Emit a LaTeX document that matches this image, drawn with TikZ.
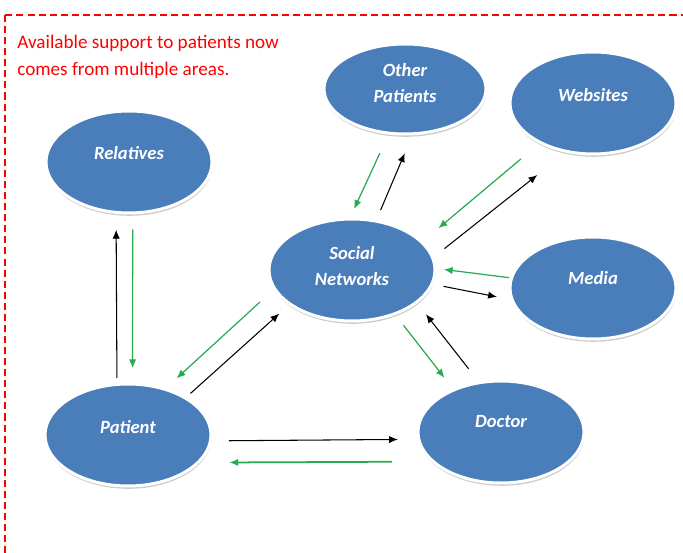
\documentclass[tikz,border=0pt]{standalone}
\usepackage{fontspec}
\setmainfont{Carlito}
\usetikzlibrary{arrows.meta,shapes.geometric,shadows}
\definecolor{bubbleblue}{RGB}{74,126,187}
\definecolor{arrowgreen}{RGB}{40,170,80}
\tikzset{>={Latex[length=5pt,width=4.2pt]}}
\tikzset{
  bubble/.style={ellipse, fill=bubbleblue, draw=white, line width=1.7pt,
    minimum width=3.32cm, minimum height=2.04cm, inner sep=0pt,
    drop shadow={shadow xshift=0.3pt, shadow yshift=-1.6pt, fill=black!45, opacity=0.45}},
  lbl/.style={text=white, font=\fontsize{10.6}{14.7}\selectfont\bfseries\itshape, align=center, inner sep=0pt},
  blk/.style={->, black, line width=0.6pt},
  grn/.style={->, arrowgreen, line width=0.7pt},
}

\begin{document}
\begin{tikzpicture}[x=0.02cm, y=-0.02cm]
    \useasboundingbox (0,0) rectangle (683,553);
    \clip (0,0) rectangle (683,553);

    % frame and note
    \draw[red, line width=1.1pt, dash pattern=on 4pt off 2.3pt] (5,15) rectangle (700,580);
    \node[anchor=west, align=left, text=red, inner sep=0pt,
          font=\fontsize{10.9}{15.3}\selectfont] (note) at (17,57)
          {Available support to patients now\\comes from multiple areas.};

    % bubbles
    \node[bubble, label={[lbl, yshift=0.18cm]center:Relatives}] (rel) at (129,162) {};
    \node[bubble, minimum width=3.24cm, minimum height=1.8cm,
          label={[lbl, yshift=0.12cm]center:Other\\Patients}] (oth) at (405,89) {};
    \node[bubble, label={[lbl, yshift=0.16cm]center:Websites}] (web) at (593,103) {};
    \node[bubble, label={[lbl, yshift=0.08cm]center:Social\\Networks}] (soc) at (352,270) {};
    \node[bubble, label={[lbl, yshift=0.2cm]center:Media}] (med) at (593,288) {};
    \node[bubble, label={[lbl, yshift=0.16cm]center:Patient}] (pat) at (128,435) {};
    \node[bubble, label={[lbl, yshift=0.2cm]center:Doctor}] (doc) at (501,432) {};

    % patient <-> relatives
    \draw[blk, shorten <=0.1cm, shorten >=0.32cm] (pat.102.8) -- (rel.256);
    \draw[grn, shorten <=0.3cm, shorten >=0.29cm] (rel.274.5) -- (pat.85);

    % patient <-> social networks
    \draw[grn, shorten <=0.37cm, shorten >=0.29cm] (soc.194) -- (pat.51.8);
    \draw[blk, shorten <=0.11cm, shorten >=0.26cm] (pat.33.5) -- (soc.209.7);

    % social networks <-> other patients
    \draw[grn, shorten <=0.41cm, shorten >=0.19cm] (oth.250.1) -- (soc.92.2);
    \draw[blk, shorten <=0.21cm, shorten >=0.39cm] (soc.64.7) -- (oth.279.6);

    % social networks <-> websites
    \draw[grn, shorten <=0.48cm, shorten >=0.41cm] (web.217.3) -- (soc.22.4);
    \draw[blk, shorten <=0.27cm, shorten >=0.72cm] (soc.9.6) -- (web.241.1);

    % social networks <-> media
    \draw[grn, shorten <=0.02cm, shorten >=0.15cm] (med.173.8) -- (soc.1.4);
    \draw[blk, shorten <=0.21cm, shorten >=0.28cm] (soc.350.4) -- (med.188.2);

    % social networks <-> doctor
    \draw[grn, shorten <=0.26cm, shorten >=0.28cm] (soc.314.7) -- (doc.138.6);
    \draw[blk, shorten <=0.32cm, shorten >=0.28cm] (doc.114.9) -- (soc.333.3);

    % patient <-> doctor
    \draw[blk, shorten <=0.34cm, shorten >=0.39cm] (pat.356.6) -- (doc.185.5);
    \draw[grn, line width=1pt, shorten <=0.79cm, shorten >=0.59cm] (doc.203.4) -- (pat.339.6);
\end{tikzpicture}
\end{document}
